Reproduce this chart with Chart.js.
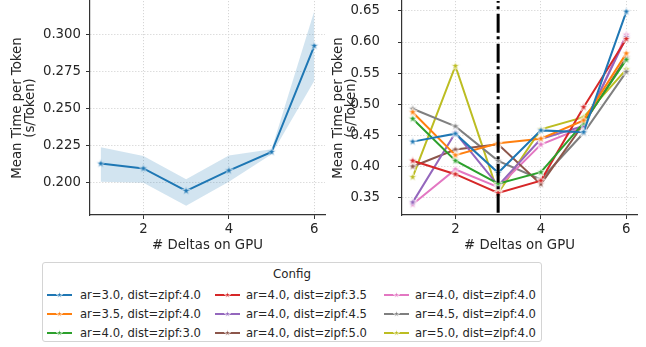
<!DOCTYPE html>
<html><head><meta charset="utf-8">
<script src="https://cdn.jsdelivr.net/npm/chart.js@4"></script>
<style>
html,body{margin:0;padding:0;background:#fff;width:646px;height:347px;overflow:hidden;font-family:"DejaVu Sans",sans-serif;}
#c1{position:absolute;left:0;top:-6px;}
#c2{position:absolute;left:330px;top:-6px;}
#legendBox{position:absolute;left:42px;top:262px;width:500px;height:80px;border:1px solid #d4d4d4;border-radius:3px;box-sizing:border-box;background:#fff;}
.lg{position:absolute;color:#262626;font-size:11.6px;line-height:14px;white-space:nowrap;}
.lgc{position:absolute;}
</style>
</head><body>
<canvas id="c1" width="332" height="266" style="width:332px;height:266px"></canvas>
<canvas id="c2" width="316" height="266" style="width:316px;height:266px"></canvas>
<div id="legendBox"></div>
<div id="legendItems"></div>
<script>
// ---------- data ----------
const xValues = [1, 2, 3, 4, 5, 6];
const xTicks = [2, 4, 6];
const leftYTicks = [0.200, 0.225, 0.250, 0.275, 0.300];
const rightYTicks = [0.35, 0.40, 0.45, 0.50, 0.55, 0.60, 0.65];
const thresholdX = 3;

// left panel: mean with confidence band
const meanTime = [0.2130, 0.2097, 0.1946, 0.2083, 0.2208, 0.2924];
const ciUpper  = [0.2240, 0.2181, 0.2025, 0.2184, 0.2226, 0.3159];
const ciLower  = [0.2007, 0.2000, 0.1846, 0.2007, 0.2193, 0.2689];

// right panel: per-config series
const configLabels = [
  'ar=3.0, dist=zipf:4.0', 'ar=3.5, dist=zipf:4.0', 'ar=4.0, dist=zipf:3.0',
  'ar=4.0, dist=zipf:3.5', 'ar=4.0, dist=zipf:4.5', 'ar=4.0, dist=zipf:5.0',
  'ar=4.0, dist=zipf:4.0', 'ar=4.5, dist=zipf:4.0', 'ar=5.0, dist=zipf:4.0'
];
const ar30_zipf40 = [0.4397, 0.4525, 0.3895, 0.4578, 0.4550, 0.6490];
const ar35_zipf40 = [0.4870, 0.4178, 0.4370, 0.4445, 0.4739, 0.5817];
const ar40_zipf30 = [0.4766, 0.4090, 0.3720, 0.3905, 0.4700, 0.5716];
const ar40_zipf35 = [0.4090, 0.3873, 0.3570, 0.3770, 0.4952, 0.6050];
const ar40_zipf45 = [0.3420, 0.4540, 0.3690, 0.4440, 0.4650, 0.6080];
const ar40_zipf50 = [0.3997, 0.4270, 0.4354, 0.3713, 0.4680, 0.5750];
const ar40_zipf40 = [0.3388, 0.3949, 0.3665, 0.4350, 0.4630, 0.6117];
const ar45_zipf40 = [0.4926, 0.4643, 0.4087, 0.3788, 0.4536, 0.5520];
const ar50_zipf40 = [0.3826, 0.5614, 0.3570, 0.4595, 0.4790, 0.5560];
const configSeries = [ar30_zipf40, ar35_zipf40, ar40_zipf30, ar40_zipf35, ar40_zipf45,
                      ar40_zipf50, ar40_zipf40, ar45_zipf40, ar50_zipf40];
const configColors = ['#1f77b4', '#ff7f0e', '#2ca02c', '#d62728', '#9467bd',
                      '#8c564b', '#e377c2', '#7f7f7f', '#bcbd22'];

// ---------- helpers ----------
const TXT = '#262626';
Chart.defaults.font.family = '"DejaVu Sans", sans-serif';
Chart.defaults.font.size = 13.3;
Chart.defaults.color = TXT;

function drawStar(ctx, cx, cy, r, color) {
  const ri = r * 0.382;
  ctx.beginPath();
  for (let i = 0; i < 10; i++) {
    const rr = i % 2 === 0 ? r : ri;
    const a = -Math.PI / 2 + i * Math.PI / 5;
    const px = cx + rr * Math.cos(a), py = cy + rr * Math.sin(a);
    if (i === 0) ctx.moveTo(px, py); else ctx.lineTo(px, py);
  }
  ctx.closePath();
  ctx.fillStyle = color;
  ctx.fill();
  ctx.lineWidth = 0.8;
  ctx.strokeStyle = '#ffffff';
  ctx.stroke();
}
function starImg(color, r) {
  const s = 12;
  const c = document.createElement('canvas');
  c.width = s; c.height = s;
  drawStar(c.getContext('2d'), s / 2, s / 2, r, color);
  return c;
}
const pts = arr => xValues.map((x, i) => ({x: x, y: arr[i]}));

function makeScales(yMin, yMax, yTicks, yWidth, fmt, yLabelPad, titlePadTop) {
  const grid = {color: '#d6d6d6', lineWidth: 1, tickLength: 4, tickColor: '#333', tickWidth: 1, tickBorderDash: []};
  const border = {display: true, color: '#333', width: 1.2, dash: [1.2, 1.8]};
  return {
    x: {
      type: 'linear', min: 0.75, max: 6.25,
      afterBuildTicks: s => { s.ticks = xTicks.map(v => ({value: v})); },
      afterFit: s => { s.height = 45; s.paddingLeft = 0; s.paddingRight = 0; },
      ticks: {color: TXT, padding: 3, maxRotation: 0, autoSkip: false, font: {size: 13.3}},
      grid: grid, border: border,
      title: {display: true, text: '# Deltas on GPU', color: TXT, font: {size: 13.3, lineHeight: 1.2}, padding: {top: 0, bottom: 6}}
    },
    y: {
      type: 'linear', min: yMin, max: yMax,
      afterBuildTicks: s => { s.ticks = yTicks.map(v => ({value: v})); },
      afterFit: s => { s.width = yWidth; s.paddingTop = 0; s.paddingBottom = 0; },
      ticks: {color: TXT, padding: yLabelPad, autoSkip: false, font: {size: 13.3}, callback: v => v.toFixed(fmt)},
      grid: grid, border: border,
      title: {display: true, text: ['Mean Time per Token', '(s/Token)'], color: TXT, font: {size: 13.3, lineHeight: 1.0}, padding: {top: titlePadTop, bottom: 0}}
    }
  };
}

// ---------- left chart ----------
new Chart(document.getElementById('c1'), {
  type: 'line',
  data: {
    datasets: [
      {data: pts(ciLower), borderWidth: 0, pointRadius: 0, fill: false, borderColor: 'rgba(0,0,0,0)'},
      {data: pts(ciUpper), borderWidth: 0, pointRadius: 0, fill: '-1', borderColor: 'rgba(0,0,0,0)', backgroundColor: 'rgba(31,119,180,0.2)'},
      {data: pts(meanTime), borderColor: '#1f77b4', borderWidth: 2, pointStyle: starImg('#1f77b4', 4.5), pointRadius: 5, fill: false, tension: 0}
    ]
  },
  options: {
    responsive: false, animation: false, devicePixelRatio: 1,
    layout: {padding: {left: 0, right: 0, top: 0, bottom: 0}},
    plugins: {legend: {display: false}, tooltip: {enabled: false}},
    scales: makeScales(0.17832, 0.32262, leftYTicks, 90, 3, 5, 10.6)
  }
});

// ---------- right chart ----------
const vlinePlugin = {
  id: 'vline',
  afterDatasetsDraw(chart) {
    const {ctx, chartArea} = chart;
    const x = chart.scales.x.getPixelForValue(thresholdX);
    ctx.save();
    ctx.strokeStyle = '#000';
    ctx.lineWidth = 3;
    ctx.lineCap = 'butt';
    ctx.setLineDash([19, 3.5, 3, 4.5]);
    ctx.lineDashOffset = 17.3;
    ctx.beginPath();
    ctx.moveTo(x, chartArea.top);
    ctx.lineTo(x, chartArea.bottom);
    ctx.stroke();
    ctx.restore();
  }
};
new Chart(document.getElementById('c2'), {
  type: 'line',
  data: {
    datasets: configSeries.map((s, i) => ({
      label: configLabels[i], data: pts(s), borderColor: configColors[i], borderWidth: 2,
      pointStyle: starImg(configColors[i], 4.5), pointRadius: 5, fill: false, tension: 0
    }))
  },
  options: {
    responsive: false, animation: false, devicePixelRatio: 1,
    layout: {padding: {left: 0, right: 9, top: 0, bottom: 0}},
    plugins: {legend: {display: false}, tooltip: {enabled: false}},
    scales: makeScales(0.32165, 0.666, rightYTicks, 72, 2, 18, 1.7)
  },
  plugins: [vlinePlugin]
});

// ---------- legend ----------
(function () {
  const wrap = document.getElementById('legendItems');
  const title = document.createElement('div');
  title.className = 'lg';
  title.textContent = 'Config';
  title.style.left = '42px'; title.style.width = '500px'; title.style.textAlign = 'center';
  title.style.top = (274 - 7) + 'px';
  title.style.fontSize = '11.8px';
  wrap.appendChild(title);
  const lineX = [46.5, 215, 384];
  const textX = [80, 246, 415];
  const rowY = [294.5, 313.8, 333.2];
  configLabels.forEach((lab, i) => {
    const col = Math.floor(i / 3), row = i % 3;
    const c = document.createElement('canvas');
    c.width = 26; c.height = 12; c.className = 'lgc';
    c.style.left = lineX[col] + 'px'; c.style.top = (rowY[row] - 6) + 'px';
    const g = c.getContext('2d');
    g.strokeStyle = configColors[i]; g.lineWidth = 2;
    g.beginPath(); g.moveTo(0, 6); g.lineTo(25, 6); g.stroke();
    drawStar(g, 12.5, 6, 3.5, configColors[i]);
    wrap.appendChild(c);
    const t = document.createElement('div');
    t.className = 'lg'; t.textContent = lab;
    t.style.left = textX[col] + 'px'; t.style.top = (rowY[row] - 7) + 'px';
    wrap.appendChild(t);
  });
})();
</script>
</body></html>
